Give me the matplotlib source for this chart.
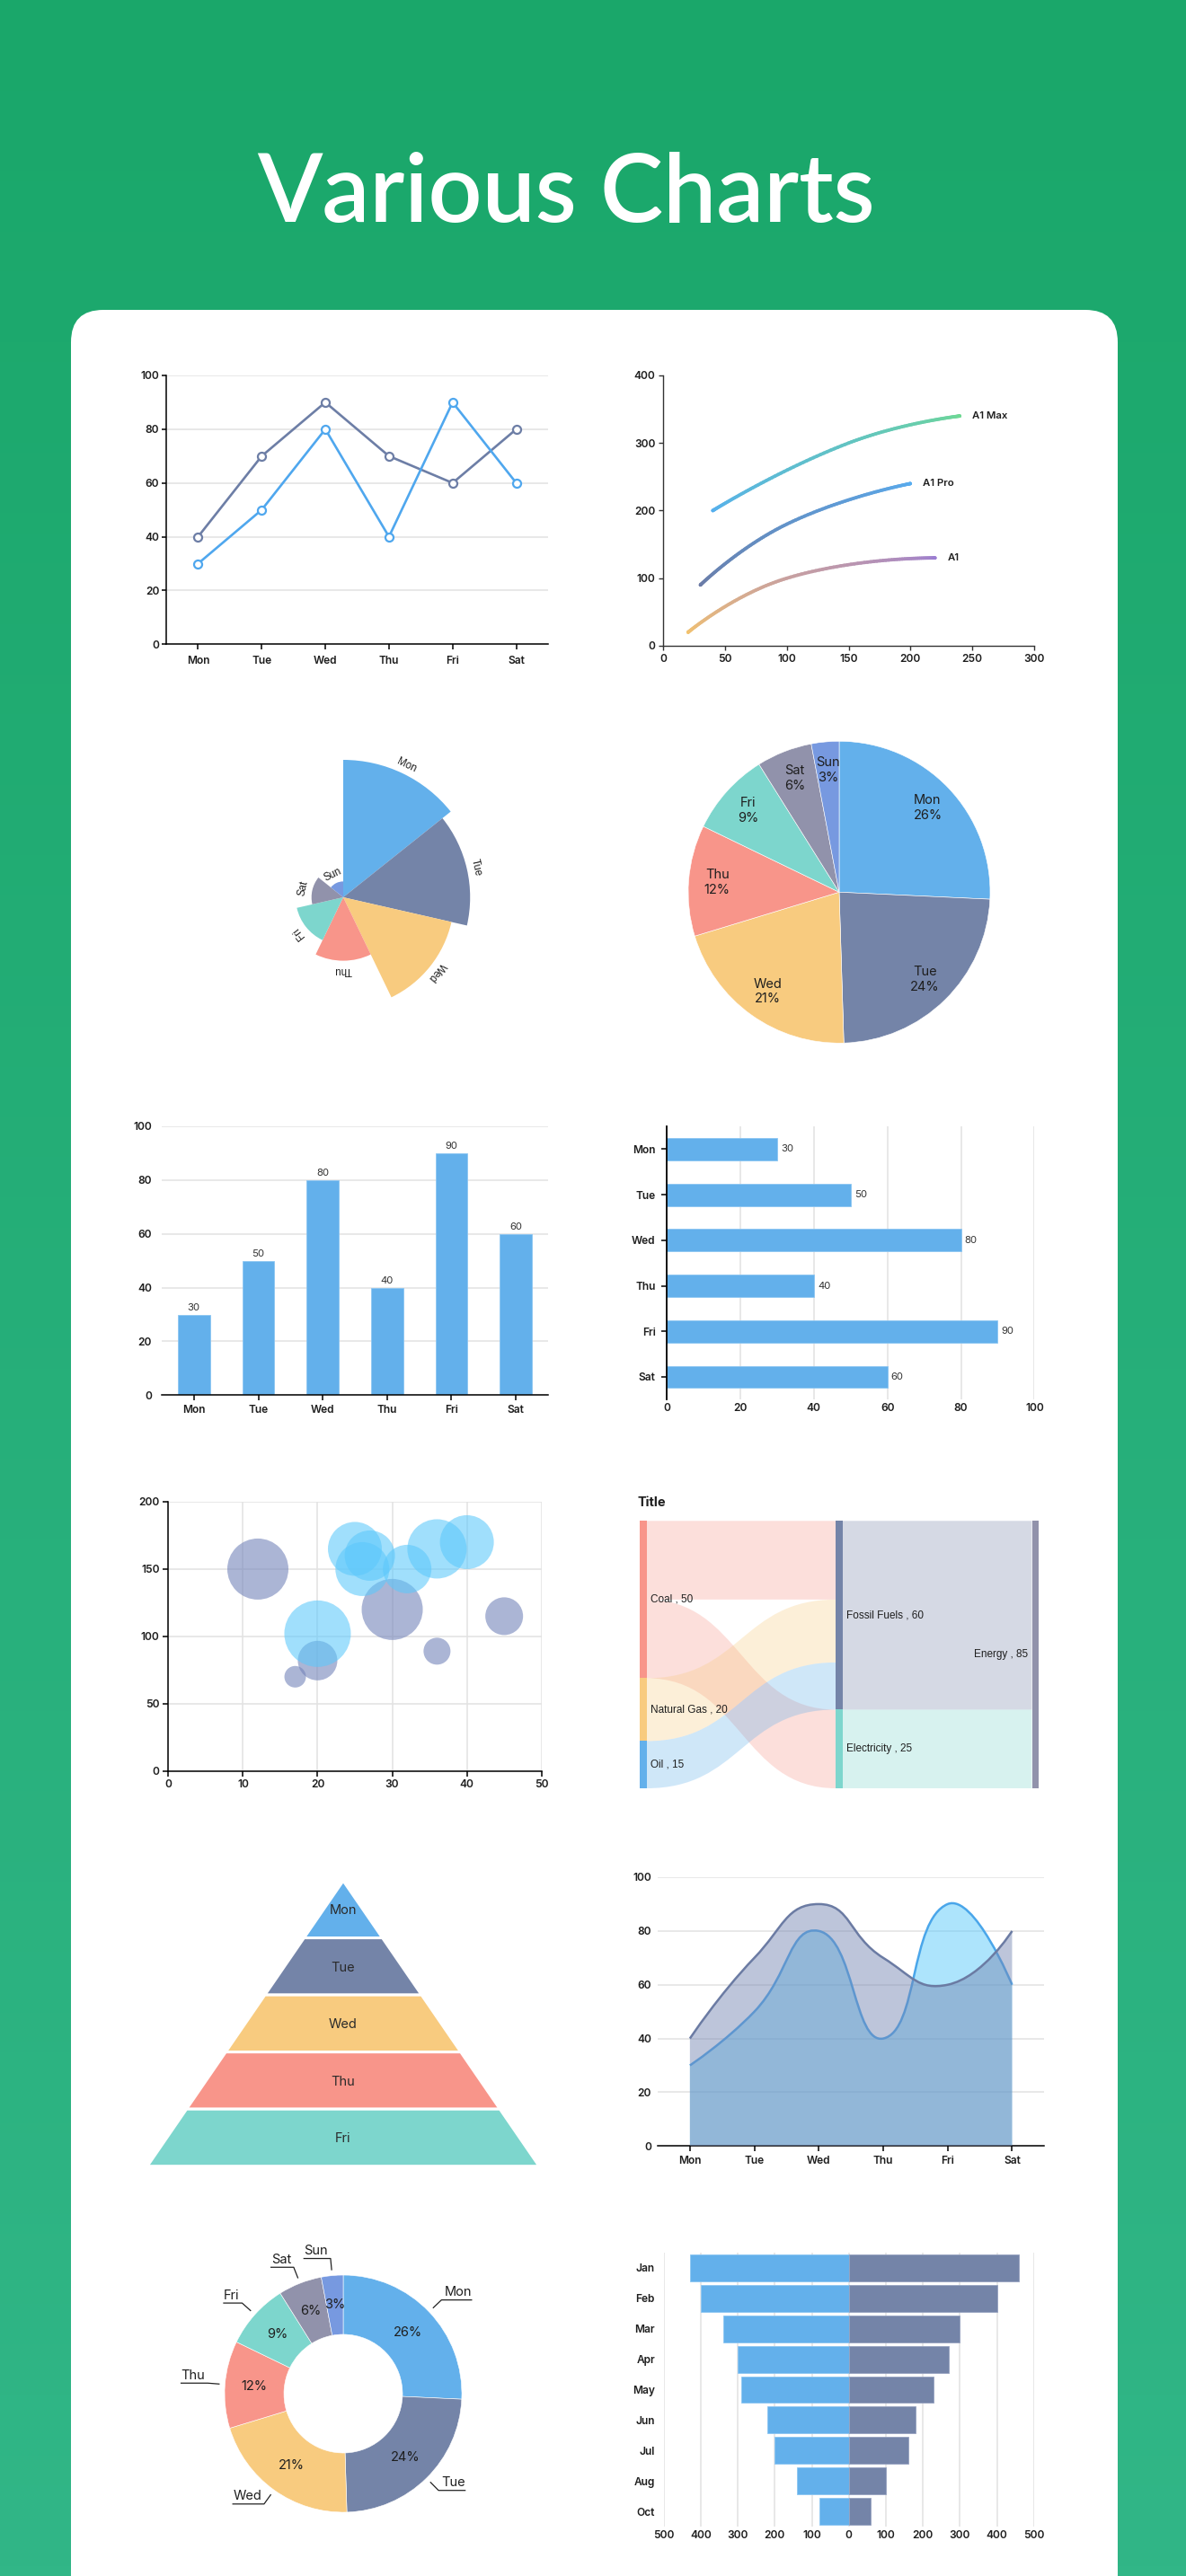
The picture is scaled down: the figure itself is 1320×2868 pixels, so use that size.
import numpy as np
import matplotlib
matplotlib.use("Agg")
import matplotlib.pyplot as plt
from matplotlib.patches import FancyBboxPatch, PathPatch, Polygon, Rectangle
from matplotlib.path import Path
from matplotlib.collections import LineCollection
from matplotlib.colors import LinearSegmentedColormap, to_rgb

W, H = 1320, 2868

plt.rcParams['font.family'] = ['Inter', 'DejaVu Sans']
plt.rcParams['axes.unicode_minus'] = False

# ---- data -------------------------------------------------------------
days = ['Mon', 'Tue', 'Wed', 'Thu', 'Fri', 'Sat']
week = ['Mon', 'Tue', 'Wed', 'Thu', 'Fri', 'Sat', 'Sun']

line_a = [40, 70, 90, 70, 60, 80]
line_b = [30, 50, 80, 40, 90, 60]
bar_vals = [30, 50, 80, 40, 90, 60]
share = [26, 24, 21, 12, 9, 6, 3]

a1_x, a1_y = [20, 100, 220], [20, 100, 130]
pro_x, pro_y = [30, 100, 200], [90, 180, 240]
max_x, max_y = [40, 150, 240], [200, 300, 340]

grey_x = [12, 30, 45, 36, 20, 17]
grey_y = [150, 120, 115, 89, 82, 70]
grey_size = [34, 34, 21, 15, 22, 12]
blue_x = [20, 25, 27, 26, 32, 36, 40]
blue_y = [102, 165, 160, 150, 150, 165, 170]
blue_size = [37, 30, 28, 30, 27, 33, 30]

sankey_nodes = ['Coal', 'Natural Gas', 'Oil', 'Fossil Fuels', 'Electricity', 'Energy']
link_src = ['Coal', 'Coal', 'Natural Gas', 'Oil', 'Fossil Fuels', 'Electricity']
link_tgt = ['Fossil Fuels', 'Electricity', 'Fossil Fuels', 'Fossil Fuels', 'Energy', 'Energy']
link_val = [25, 25, 20, 15, 60, 25]

funnel_names = ['Mon', 'Tue', 'Wed', 'Thu', 'Fri']
funnel_vals = [20, 40, 60, 80, 100]

months = ['Jan', 'Feb', 'Mar', 'Apr', 'May', 'Jun', 'Jul', 'Aug', 'Oct']
left_vals = [430, 400, 340, 300, 290, 220, 200, 140, 80]
right_vals = [460, 400, 300, 270, 230, 180, 160, 100, 60]

# ---- style ------------------------------------------------------------
BLUE = '#63b0eb'
SLATE = '#7484a8'
YELLOW = '#f8cb7f'
SALMON = '#f8958a'
TEAL = '#7dd6cd'
GREY = '#9192ab'
PERI = '#7799e0'
PALETTE = [BLUE, SLATE, YELLOW, SALMON, TEAL, GREY, PERI]
GRID = '#e2e2e2'
TXT = '#1e1e1e'
TICK_FS = 8.6

fig = plt.figure(figsize=(W / 100, H / 100), dpi=100)


def px_axes(x0, y0, x1, y1, **kw):
    return fig.add_axes([x0 / W, 1 - y1 / H, (x1 - x0) / W, (y1 - y0) / H], **kw)


def style_ticks(ax):
    for lab in ax.get_xticklabels() + ax.get_yticklabels():
        lab.set_fontsize(TICK_FS)
        lab.set_fontweight('semibold')
        lab.set_color(TXT)


def echarts_smooth(pts, smooth=0.5):
    # bezier segments the way echarts smooths a line (pixel space)
    n = len(pts)
    cin = pts.copy()
    cout = pts.copy()
    for i in range(1, n - 1):
        prev, cur, nxt = pts[i - 1], pts[i], pts[i + 1]
        v = nxt - prev
        d0 = np.hypot(*(cur - prev))
        d1 = np.hypot(*(nxt - cur))
        r = d1 / (d0 + d1)
        cin[i] = cur - v * smooth * (1 - r)
        cout[i] = cur + v * smooth * r
    return [(pts[i], cout[i], cin[i + 1], pts[i + 1]) for i in range(n - 1)]


def smooth_path(ax, xs, ys, base=None):
    pts = ax.transData.transform(np.column_stack([xs, ys]).astype(float))
    segs = echarts_smooth(pts)
    verts, codes = [], []
    if base is not None:
        b = ax.transData.transform([(xs[0], base), (xs[-1], base)])
        verts.append(b[0]); codes.append(Path.MOVETO)
        verts.append(pts[0]); codes.append(Path.LINETO)
    else:
        verts.append(pts[0]); codes.append(Path.MOVETO)
    for p0, c1, c2, p1 in segs:
        verts += [c1, c2, p1]
        codes += [Path.CURVE4] * 3
    if base is not None:
        verts.append(b[1]); codes.append(Path.LINETO)
        verts.append(b[0]); codes.append(Path.CLOSEPOLY)
    dv = ax.transData.inverted().transform(np.array(verts))
    return Path(dv, codes)


def smooth_points(ax, xs, ys, n=60):
    pts = ax.transData.transform(np.column_stack([xs, ys]).astype(float))
    t = np.linspace(0, 1, n)[:, None]
    out = []
    for p0, c1, c2, p1 in echarts_smooth(pts):
        out.append((1 - t) ** 3 * p0 + 3 * (1 - t) ** 2 * t * c1 + 3 * (1 - t) * t ** 2 * c2 + t ** 3 * p1)
    return ax.transData.inverted().transform(np.vstack(out))


# ---- background + card --------------------------------------------------
bg = fig.add_axes([0, 0, 1, 1])
bg.set_xlim(0, W)
bg.set_ylim(H, 0)
bg.axis('off')
grad = np.linspace(0, 1, 256)[:, None]
bg.imshow(grad, extent=[0, W, H, 0], aspect='auto',
          cmap=LinearSegmentedColormap.from_list('bg', ['#1aa76a', '#31b687']))
bg.add_patch(FancyBboxPatch((79, 345), 1165, 2700, boxstyle='round,pad=0,rounding_size=36',
                            facecolor='white', edgecolor='none'))
bg.text(630, 247, 'Various Charts', color='white', fontsize=76, ha='center', va='baseline',
        family=['Lato', 'DejaVu Sans'], fontweight='semibold')

# ---- 1. line chart ------------------------------------------------------
ax = px_axes(185, 418, 610, 717.3)
x = np.arange(len(days))
ax.set_xlim(-0.5, 5.5)
ax.set_ylim(0, 100)
ax.set_yticks(range(0, 101, 20))
ax.set_xticks(x, days)
ax.yaxis.grid(True, color=GRID, lw=1.1)
ax.set_axisbelow(True)
for s in ['top', 'right']:
    ax.spines[s].set_visible(False)
for s in ['left', 'bottom']:
    ax.spines[s].set_linewidth(1.1)
ax.tick_params(axis='x', length=4.5, width=1.1, pad=5)
ax.tick_params(axis='y', length=3.5, width=1.1, pad=2)
ax.plot(x, line_a, color='#6d7ea6', lw=1.9, marker='o', ms=6.5, mfc='white', mew=1.6, zorder=3)
ax.plot(x, line_b, color='#4fa7ee', lw=1.9, marker='o', ms=6.5, mfc='white', mew=1.6, zorder=3)
style_ticks(ax)

# ---- 2. gradient curves -------------------------------------------------
ax = px_axes(738.3, 418, 1150.7, 719)
ax.set_xlim(0, 300)
ax.set_ylim(0, 400)
ax.set_xticks(range(0, 301, 50))
ax.set_yticks(range(0, 401, 100))
for s in ['top', 'right']:
    ax.spines[s].set_visible(False)
for s in ['left', 'bottom']:
    ax.spines[s].set_linewidth(1.0)
    ax.spines[s].set_color('#333333')
ax.tick_params(length=3.5, width=1.0, color='#333333', pad=3)
curves = [(a1_x, a1_y, '#f6c56c', '#9b7dd3', 'A1'),
          (pro_x, pro_y, '#6c79a3', '#58adf0', 'A1 Pro'),
          (max_x, max_y, '#55aef2', '#6fd993', 'A1 Max')]
for xs, ys, c0, c1, name in curves:
    p = smooth_points(ax, xs, ys)
    segs = np.stack([p[:-1], p[1:]], axis=1)
    t = np.linspace(0, 1, len(segs))[:, None]
    cols = (1 - t) * np.array(to_rgb(c0)) + t * np.array(to_rgb(c1))
    ax.add_collection(LineCollection(segs, colors=cols, lw=2.7, capstyle='round'))
    ax.annotate(name, (xs[-1], ys[-1]), xytext=(10, 0), textcoords='offset points',
                va='center', ha='left', fontsize=8.2, fontweight='semibold', color=TXT)
style_ticks(ax)

# ---- 3. nightingale rose --------------------------------------------------
px_per_unit = 153 / 26
rmax = 30
side = rmax * px_per_unit
ax = px_axes(382 - side, 999 - side, 382 + side, 999 + side, projection='polar')
ax.set_theta_zero_location('N')
ax.set_theta_direction(-1)
ax.set_ylim(0, rmax)
ax.axis('off')
step = 2 * np.pi / len(week)
theta = np.arange(len(week)) * step
ax.bar(theta, share, width=step, align='edge', color=PALETTE, edgecolor='none')
for i, name in enumerate(week):
    mid = (i + 0.5) * step
    ax.text(mid, share[i] + 10 / px_per_unit, name, rotation=-np.degrees(mid),
            rotation_mode='anchor', ha='center', va='center', fontsize=8.3,
            family=['Liberation Sans', 'DejaVu Sans'], color=TXT)

# ---- 4. pie ---------------------------------------------------------------
R = 168
ax = px_axes(934 - R, 993.3 - R, 934 + R, 993.3 + R)
ax.pie(share, colors=PALETTE, startangle=90, counterclock=False, radius=1,
       wedgeprops=dict(edgecolor='white', linewidth=0.4))
ax.set_xlim(-1, 1)
ax.set_ylim(-1, 1)
frac = np.array(share) / sum(share)
cum = np.concatenate([[0], np.cumsum(frac)[:-1]])
for i, name in enumerate(week):
    a = np.radians(90 - 360 * (cum[i] + frac[i] / 2))
    ax.text(0.81 * np.cos(a), 0.81 * np.sin(a), f'{name}\n{frac[i] * 100:.0f}%',
            ha='center', va='center', fontsize=10.5, color=TXT, linespacing=1.25)

# ---- 5. vertical bars -------------------------------------------------------
ax = px_axes(180, 1254, 610, 1553.3)
ax.set_xlim(-0.5, 5.5)
ax.set_ylim(0, 100)
bars = ax.bar(x, bar_vals, width=0.5, color=BLUE, edgecolor='#8cc6f2', lw=0.6)
ax.bar_label(bars, padding=2, fontsize=8.2, color='#333333')
ax.set_xticks(x, days)
ax.set_yticks(range(0, 101, 20))
ax.yaxis.grid(True, color=GRID, lw=1.1)
ax.set_axisbelow(True)
for s in ['top', 'right', 'left']:
    ax.spines[s].set_visible(False)
ax.spines['bottom'].set_linewidth(1.1)
ax.tick_params(axis='x', length=4, width=1.1, pad=4)
ax.tick_params(axis='y', length=0, pad=8)
style_ticks(ax)

# ---- 6. horizontal bars -------------------------------------------------------
ax = px_axes(742, 1254, 1151.4, 1558.3)
ax.set_xlim(0, 100)
ax.set_ylim(5.5, -0.5)
bars = ax.barh(x, bar_vals, height=0.49, color=BLUE, edgecolor='#8cc6f2', lw=0.6)
ax.bar_label(bars, padding=3, fontsize=8.2, color='#333333')
ax.set_yticks(x, days)
ax.set_xticks(range(0, 101, 20))
ax.xaxis.grid(True, color=GRID, lw=1.1)
ax.set_axisbelow(True)
for s in ['top', 'right', 'bottom']:
    ax.spines[s].set_visible(False)
ax.spines['left'].set_linewidth(1.3)
ax.tick_params(axis='y', length=4, width=1.1, pad=5)
ax.tick_params(axis='x', length=0, pad=3)
style_ticks(ax)

# ---- 7. bubbles -----------------------------------------------------------------
ax = px_axes(187.3, 1672, 602.7, 1971.7)
ax.set_xlim(0, 50)
ax.set_ylim(0, 200)
ax.set_xticks(range(0, 51, 10))
ax.set_yticks(range(0, 201, 50))
ax.grid(True, color=GRID, lw=1.1)
ax.set_axisbelow(True)
for s in ['top', 'right']:
    ax.spines[s].set_visible(False)
for s in ['left', 'bottom']:
    ax.spines[s].set_linewidth(1.1)
ax.tick_params(length=4, width=1.1, pad=3)
ax.scatter(grey_x, grey_y, s=(2 * np.array(grey_size) * 0.72) ** 2, color='#7484ba', alpha=0.6,
           edgecolors='none', zorder=3)
ax.scatter(blue_x, blue_y, s=(2 * np.array(blue_size) * 0.72) ** 2, color='#5cc8fb', alpha=0.58,
           edgecolors='none', zorder=3)
style_ticks(ax)

# ---- 8. sankey ---------------------------------------------------------------------
fig.text(710 / W, 1 - 1673 / H, 'Title', fontsize=10.5, fontweight='bold', color=TXT,
         ha='left', va='center')
ax = px_axes(712, 1693.3, 1156, 1991)
ax.set_xlim(0, 444)
ax.set_ylim(85, 0)
ax.axis('off')
node_col = {'Coal': SALMON, 'Natural Gas': YELLOW, 'Oil': BLUE,
            'Fossil Fuels': SLATE, 'Electricity': TEAL, 'Energy': GREY}
depth = {n: 0 for n in sankey_nodes}
for _ in range(len(sankey_nodes)):
    for s, t in zip(link_src, link_tgt):
        depth[t] = max(depth[t], depth[s] + 1)
val_in = {n: 0 for n in sankey_nodes}
val_out = {n: 0 for n in sankey_nodes}
for s, t, v in zip(link_src, link_tgt, link_val):
    val_out[s] += v
    val_in[t] += v
node_val = {n: max(val_in[n], val_out[n]) for n in sankey_nodes}
ncols = max(depth.values())
nw = 7.5
col_gap = (444 - nw) / ncols
node_y = {}
stack = {}
for n in sankey_nodes:
    d = depth[n]
    node_y[n] = stack.get(d, 0)
    stack[d] = node_y[n] + node_val[n]
out_off = dict(node_y)
in_off = dict(node_y)
for s, t, v in zip(link_src, link_tgt, link_val):
    sx = depth[s] * col_gap + nw
    tx = depth[t] * col_gap
    mx = (sx + tx) / 2
    s0, t0 = out_off[s], in_off[t]
    out_off[s] += v
    in_off[t] += v
    verts = [(sx, s0), (mx, s0), (mx, t0), (tx, t0), (tx, t0 + v),
             (mx, t0 + v), (mx, s0 + v), (sx, s0 + v), (sx, s0)]
    codes = [Path.MOVETO, Path.CURVE4, Path.CURVE4, Path.CURVE4, Path.LINETO,
             Path.CURVE4, Path.CURVE4, Path.CURVE4, Path.CLOSEPOLY]
    ax.add_patch(PathPatch(Path(verts, codes), facecolor=node_col[s], alpha=0.3, edgecolor='none'))
for n in sankey_nodes:
    nx = depth[n] * col_gap
    ax.add_patch(Rectangle((nx, node_y[n]), nw, node_val[n], facecolor=node_col[n], edgecolor='none'))
    yc = node_y[n] + node_val[n] / 2
    if depth[n] == ncols:
        ax.text(nx - 4, yc, f'{n} , {node_val[n]}', ha='right', va='center', fontsize=8.5,
                family=['Liberation Sans', 'DejaVu Sans'], color=TXT)
    else:
        ax.text(nx + nw + 4, yc, f'{n} , {node_val[n]}', ha='left', va='center', fontsize=8.5,
                family=['Liberation Sans', 'DejaVu Sans'], color=TXT)

# ---- 9. pyramid -----------------------------------------------------------------------
ax = px_axes(164, 2094, 600, 2411.7)
ax.set_xlim(-50, 50)
ax.set_ylim(len(funnel_vals), 0)
ax.axis('off')
prev = 0
for i, (name, v) in enumerate(zip(funnel_names, funnel_vals)):
    poly = [(-prev / 2, i), (prev / 2, i), (v / 2, i + 1), (-v / 2, i + 1)]
    ax.add_patch(Polygon(poly, closed=True, facecolor=PALETTE[i], edgecolor='white', lw=2.2))
    ax.text(0, i + 0.52, name, ha='center', va='center', fontsize=10.5, color='#2a2a2a')
    prev = v

# ---- 10. smooth area -----------------------------------------------------------------
ax = px_axes(732, 2090, 1162.3, 2389.3)
ax.set_xlim(-0.5, 5.5)
ax.set_ylim(0, 100)
ax.set_xticks(x, days)
ax.set_yticks(range(0, 101, 20))
ax.yaxis.grid(True, color=GRID, lw=1.1)
ax.set_axisbelow(True)
for s in ['top', 'right', 'left']:
    ax.spines[s].set_visible(False)
ax.spines['bottom'].set_linewidth(1.1)
ax.tick_params(axis='x', length=4, width=1.1, pad=4)
ax.tick_params(axis='y', length=0, pad=5)
ax.add_patch(PathPatch(smooth_path(ax, x, line_b, base=0), facecolor='#5ccafb', alpha=0.5,
                       edgecolor='none', zorder=2))
ax.add_patch(PathPatch(smooth_path(ax, x, line_b), fill=False, edgecolor='#4aa6ea', lw=1.8, zorder=2))
ax.add_patch(PathPatch(smooth_path(ax, x, line_a, base=0), facecolor='#7586b2', alpha=0.48,
                       edgecolor='none', zorder=3))
ax.add_patch(PathPatch(smooth_path(ax, x, line_a), fill=False, edgecolor='#6b7ba3', lw=1.8, zorder=3))
style_ticks(ax)

# ---- 11. donut ---------------------------------------------------------------------
R = 132
ax = px_axes(382 - R, 2665 - R, 382 + R, 2665 + R)
ax.pie(share, colors=PALETTE, startangle=90, counterclock=False, radius=1,
       wedgeprops=dict(width=0.5, edgecolor='white', linewidth=0.4))
ax.set_xlim(-1, 1)
ax.set_ylim(-1, 1)
renderer = fig.canvas.get_renderer()
for i, name in enumerate(week):
    a = np.radians(90 - 360 * (cum[i] + frac[i] / 2))
    c, s = np.cos(a), np.sin(a)
    ax.text(0.75 * c, 0.75 * s, f'{frac[i] * 100:.0f}%', ha='center', va='center',
            fontsize=10.5, color=TXT)
    sgn = 1 if c >= 0 else -1
    p0 = (1.05 * c, 1.05 * s)
    p1 = (1.145 * c, 1.145 * s)
    t = ax.text(0, 0, name, fontsize=10.5, color=TXT, va='bottom',
                ha='right' if sgn > 0 else 'left', clip_on=False)
    wpx = t.get_window_extent(renderer=renderer).width
    xe = p1[0] + sgn * (wpx + 3) / R
    ax.plot([p0[0], p1[0], xe], [p0[1], p1[1], p1[1]], color='#222222', lw=0.9, clip_on=False)
    t.set_position((xe, p1[1] + 1.5 / R))

# ---- 12. butterfly -----------------------------------------------------------------
ax = px_axes(738.7, 2508, 1150.7, 2813)
ym = np.arange(len(months))
ax.barh(ym, [-v for v in left_vals], height=0.88, color=BLUE, edgecolor='#8cc6f2', lw=0.6)
ax.barh(ym, right_vals, height=0.88, color=SLATE, edgecolor='#97a3c0', lw=0.6)
ax.set_xlim(-500, 500)
ax.set_ylim(len(months) - 0.5, -0.5)
ticks = list(range(-500, 501, 100))
ax.set_xticks(ticks, [str(abs(v)) for v in ticks])
ax.set_yticks(ym, months)
ax.xaxis.grid(True, color=GRID, lw=1.1)
ax.set_axisbelow(True)
for s in ax.spines.values():
    s.set_visible(False)
ax.tick_params(length=0)
ax.tick_params(axis='y', pad=7)
ax.tick_params(axis='x', pad=3)
style_ticks(ax)

fig.savefig('out.png', dpi=100)
